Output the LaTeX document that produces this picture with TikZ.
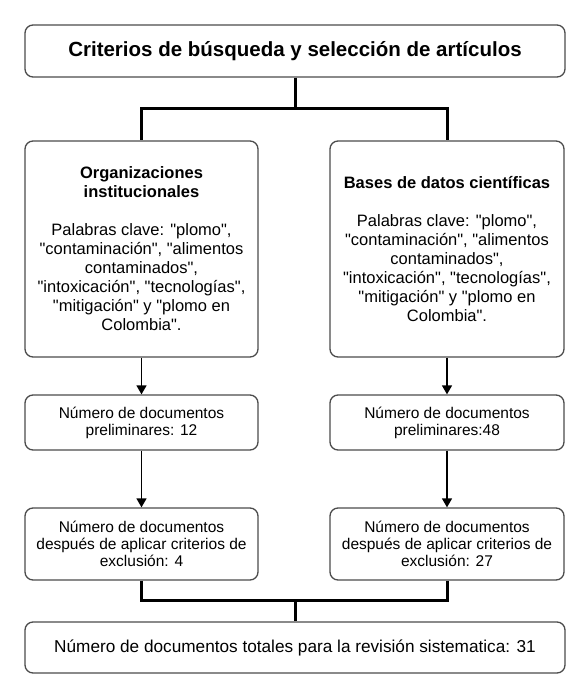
\documentclass[tikz,border=0pt]{standalone}
\usepackage{fontspec}
\setmainfont{Liberation Sans}[Ligatures=TeXOff]
\usetikzlibrary{arrows.meta}
\begin{document}
\begin{tikzpicture}[x=1pt,y=-1pt,
  box/.style={draw=black!70, line width=1.3pt, rounded corners=8pt, fill=white, align=center, inner sep=0pt},
  bigtxt/.style={font=\fontsize{16.5}{19}\selectfont},
  smalltxt/.style={font=\fontsize{15.5}{17}\selectfont},
  thickline/.style={line width=3pt, black},
  arrow/.style={line width=1.5pt, black, -{Triangle[length=9pt,width=10pt]}}
]
\useasboundingbox (0,0) rectangle (585,696);
\node[box, minimum width=540pt, minimum height=52pt, font=\bfseries\fontsize{20.5}{23}\selectfont] (top) at (295,51) {Criterios de búsqueda y selección de artículos};
\node[box, bigtxt, minimum width=233pt, minimum height=216pt] (left) at (141.5,249)
  {\textbf{Organizaciones}\\\textbf{institucionales}\\[19pt]Palabras clave: "plomo",\\"contaminación", "alimentos\\contaminados",\\"intoxicación", "tecnologías",\\"mitigación" y "plomo en\\Colombia".};
\node[box, bigtxt, minimum width=234pt, minimum height=216pt] (right) at (447,249)
  {\textbf{Bases de datos científicas}\\[19pt]Palabras clave: "plomo",\\"contaminación", "alimentos\\contaminados",\\"intoxicación", "tecnologías",\\"mitigación" y "plomo en\\Colombia".};
\node[box, smalltxt, minimum width=233pt, minimum height=55pt] (p1) at (141.5,422.5) {Número de documentos\\preliminares: 12};
\node[box, smalltxt, minimum width=234pt, minimum height=55pt] (p2) at (447,422.5) {Número de documentos\\preliminares:48};
\node[box, smalltxt, minimum width=233pt, minimum height=72pt] (e1) at (141.5,544) {Número de documentos\\después de aplicar criterios de\\exclusión: 4};
\node[box, smalltxt, minimum width=234pt, minimum height=72pt] (e2) at (447,544) {Número de documentos\\después de aplicar criterios de\\exclusión: 27};
\node[box, font=\fontsize{17.2}{20}\selectfont, minimum width=540pt, minimum height=51pt] (bot) at (295,647.5) {Número de documentos totales para la revisión sistematica: 31};
\coordinate (j1) at (295,108);
\coordinate (j2) at (295,600);
\draw[thickline] (top.south) -- (j1);
\draw[thickline] (j1) -| (left.north);
\draw[thickline] (j1) -| (right.north);
\draw[arrow] (left.south) -- (p1.north);
\draw[arrow] (right.south) -- (p2.north);
\draw[arrow] (p1.south) -- (e1.north);
\draw[arrow] (p2.south) -- (e2.north);
\draw[thickline] (e1.south) |- (j2);
\draw[thickline] (e2.south) |- (j2);
\draw[thickline] (j2) -- (bot.north);
\end{tikzpicture}
\end{document}
